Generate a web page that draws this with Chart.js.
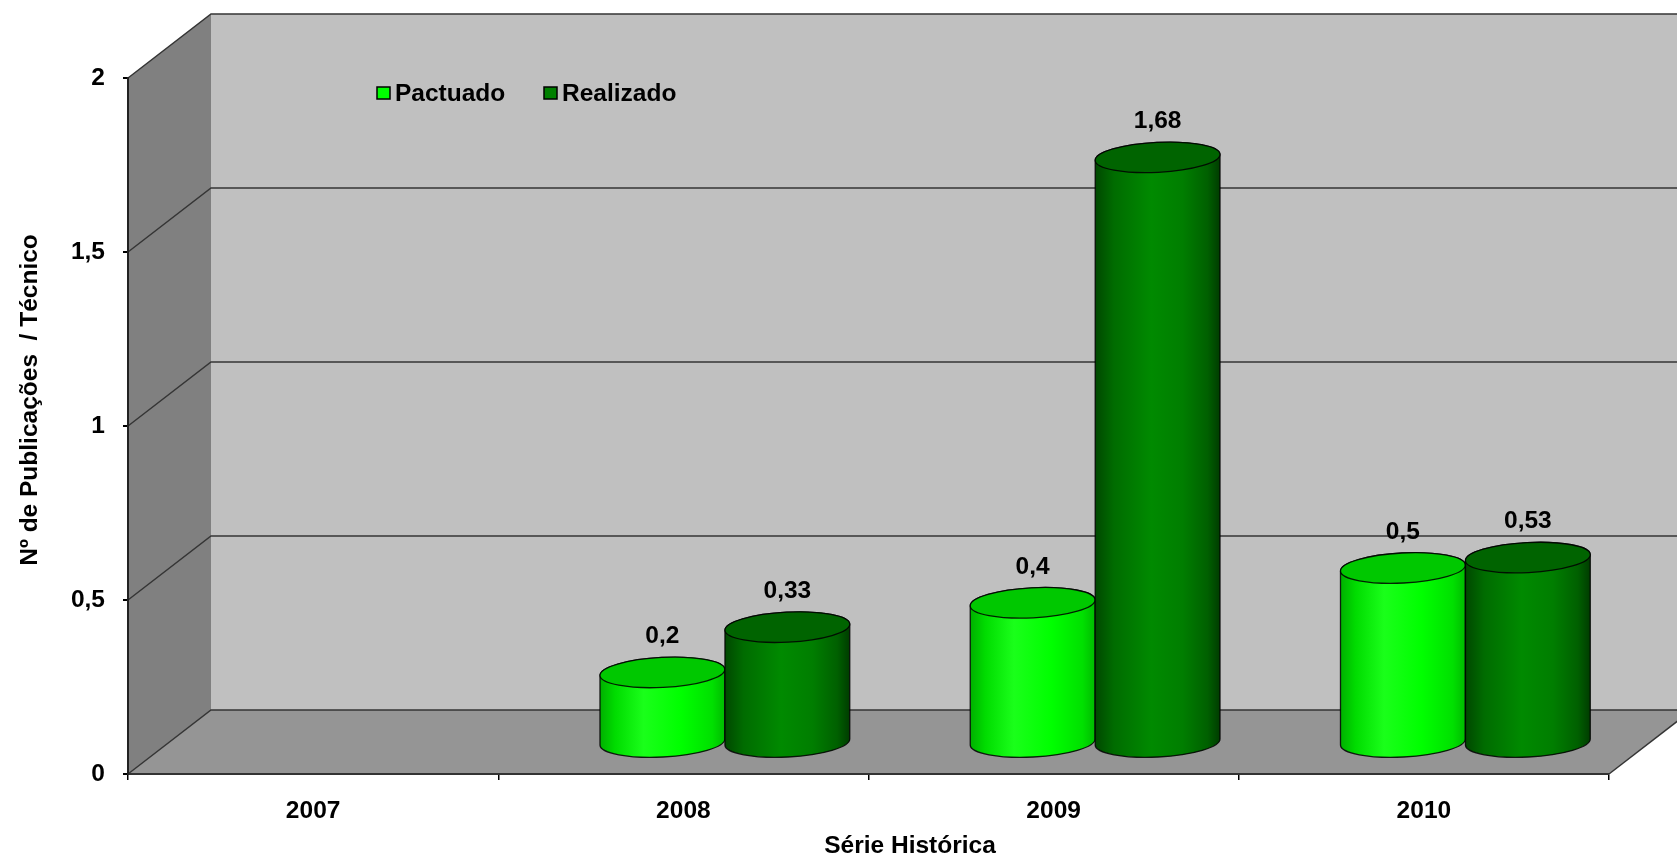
<!DOCTYPE html>
<html>
<head>
<meta charset="utf-8">
<title>Série Histórica</title>
<script src="https://cdn.jsdelivr.net/npm/chart.js@4/dist/chart.umd.min.js"></script>
<style>
  body { margin: 0; background: #fff; }
  #cv1 { display: block; }
</style>
</head>
<body>
<canvas id="cv1" width="1677" height="858"></canvas>
<script>
// data
const anos = ['2007', '2008', '2009', '2010'];
const pactuado = [null, 0.2, 0.4, 0.5];
const realizado = [null, 0.33, 1.68, 0.53];
const yTicks = [0, 0.5, 1, 1.5, 2];

const FONT = 'bold 24.5px "Liberation Sans", Arial, sans-serif';
const fontObj = { family: '"Liberation Sans", Arial, sans-serif', size: 24.5, weight: 'bold' };

// depth of the 3d box and of the cylinders
const DX = 83, DY = 64;
const RY = 15;      // vertical radius of cylinder ellipses
const TILT = -0.05; // slight tilt of the ellipses

const virgula = v => String(v).replace('.', ',');

function poly(ctx, pts, fill) {
  ctx.beginPath();
  ctx.moveTo(pts[0][0], pts[0][1]);
  for (let i = 1; i < pts.length; i++) ctx.lineTo(pts[i][0], pts[i][1]);
  ctx.closePath();
  ctx.fillStyle = fill;
  ctx.fill();
}

function cylinder(ctx, cx, r, yTop, yBase, stops, topColor) {
  const c = Math.cos(TILT), s = Math.sin(TILT);
  const g = ctx.createLinearGradient(cx - r, 0, cx + r, 0);
  stops.forEach(st => g.addColorStop(st[0], st[1]));

  // body
  ctx.beginPath();
  ctx.moveTo(cx - r * c, yTop - r * s);
  ctx.lineTo(cx - r * c, yBase - r * s);
  ctx.ellipse(cx, yBase, r, RY, TILT, Math.PI, 0, true);
  ctx.lineTo(cx + r * c, yTop + r * s);
  ctx.ellipse(cx, yTop, r, RY, TILT, 0, Math.PI, true);
  ctx.closePath();
  ctx.fillStyle = g;
  ctx.fill();
  ctx.lineWidth = 1.3;
  ctx.strokeStyle = 'rgba(0,0,0,0.85)';
  ctx.stroke();

  // top face
  ctx.beginPath();
  ctx.ellipse(cx, yTop, r, RY, TILT, 0, Math.PI * 2);
  ctx.fillStyle = topColor;
  ctx.fill();
  ctx.stroke();
}

const styles = [
  {
    stops: [[0, '#00b000'], [0.12, '#00dc00'], [0.35, '#1aff1a'], [0.65, '#00ff00'], [0.9, '#00e000'], [1, '#00bb00']],
    top: '#00c800'
  },
  {
    stops: [[0, '#004800'], [0.15, '#006c00'], [0.45, '#008a00'], [0.7, '#007e00'], [0.9, '#006000'], [1, '#003c00']],
    top: '#006400'
  }
];

const box3d = {
  id: 'box3d',
  beforeDraw(chart) {
    const { ctx, chartArea: a, scales: { y } } = chart;
    const y0 = y.getPixelForValue(0), y2 = y.getPixelForValue(2);
    const far = chart.width + 40;
    ctx.save();
    // floor, back wall, left wall
    poly(ctx, [[a.left, y0], [a.right, y0], [a.right + DX, y0 - DY], [a.left + DX, y0 - DY]], '#959595');
    poly(ctx, [[a.left + DX, y2 - DY], [far, y2 - DY], [far, y0 - DY], [a.left + DX, y0 - DY]], '#c0c0c0');
    poly(ctx, [[a.left, y0], [a.left, y2], [a.left + DX, y2 - DY], [a.left + DX, y0 - DY]], '#808080');

    // grid lines on the walls
    ctx.strokeStyle = '#353535';
    ctx.lineWidth = 1.5;
    yTicks.forEach(v => {
      const py = y.getPixelForValue(v);
      ctx.beginPath();
      ctx.moveTo(a.left, py);
      ctx.lineTo(a.left + DX, py - DY);
      ctx.lineTo(far, py - DY);
      ctx.stroke();
    });
    // right edge of the floor
    ctx.beginPath();
    ctx.moveTo(a.right, y0);
    ctx.lineTo(a.right + DX, y0 - DY);
    ctx.stroke();
    ctx.restore();
  },
  beforeDatasetsDraw(chart) {
    const { ctx, scales: { y } } = chart;
    const yBase = y.getPixelForValue(0) - DY / 2;
    ctx.save();
    const labels = [];
    chart.data.datasets.forEach((ds, di) => {
      const meta = chart.getDatasetMeta(di);
      meta.data.forEach((bar, i) => {
        const v = ds.data[i];
        if (v == null) return;
        const cx = bar.x + DX / 2;
        const yTop = y.getPixelForValue(v) - DY / 2;
        cylinder(ctx, cx, bar.width / 2, yTop, yBase, styles[di].stops, styles[di].top);
        labels.push([virgula(v), cx, yTop - 36]);
      });
    });
    ctx.font = FONT;
    ctx.fillStyle = '#000';
    ctx.textAlign = 'center';
    ctx.textBaseline = 'middle';
    labels.forEach(l => ctx.fillText(l[0], l[1], l[2]));
    ctx.restore();
    return false;
  },
  afterDraw(chart) {
    const { ctx, chartArea: a } = chart;
    ctx.save();
    // legend
    ctx.font = FONT;
    ctx.textBaseline = 'middle';
    ctx.textAlign = 'left';
    chart.data.datasets.forEach((ds, i) => {
      const lx = 377 + i * 167, ly = 93;
      ctx.fillStyle = ds.backgroundColor;
      ctx.fillRect(lx, ly - 6, 13, 12);
      ctx.strokeStyle = '#000';
      ctx.lineWidth = 1.5;
      ctx.strokeRect(lx, ly - 6, 13, 12);
      ctx.fillStyle = '#000';
      ctx.fillText(ds.label, lx + 18, ly + 1);
    });
    // axis titles
    ctx.textAlign = 'center';
    ctx.fillText('Série Histórica', (a.left + a.right + DX) / 2, 846);
    ctx.translate(30, 400);
    ctx.rotate(-Math.PI / 2);
    ctx.fillText('Nº de Publicações  / Técnico', 0, 0);
    ctx.restore();
  }
};

const ctx = document.getElementById('cv1').getContext('2d');
const chart = new Chart(ctx, {
  type: 'bar',
  data: {
    labels: anos,
    datasets: [
      { label: 'Pactuado', data: pactuado, backgroundColor: '#00ff00' },
      { label: 'Realizado', data: realizado, backgroundColor: '#008000' }
    ]
  },
  options: {
    responsive: false,
    animation: false,
    layout: { padding: { top: 78, right: 68, left: 0, bottom: 0 } },
    datasets: { bar: { categoryPercentage: 0.675, barPercentage: 1 } },
    plugins: { legend: { display: false }, tooltip: { enabled: false } },
    scales: {
      x: {
        grid: { drawOnChartArea: false, offset: true, tickLength: 6, color: '#000', lineWidth: 1.5 },
        border: { color: '#333', width: 2 },
        ticks: { font: fontObj, color: '#000', padding: 17 },
        afterFit: s => { s.height = 84; }
      },
      y: {
        min: 0,
        max: 2,
        ticks: { stepSize: 0.5, padding: 18, font: fontObj, color: '#000', callback: v => virgula(v) },
        grid: { drawOnChartArea: false, tickLength: 5, color: '#000', lineWidth: 2 },
        border: { color: '#222', width: 2 },
        afterFit: s => { s.width = 128; }
      }
    }
  },
  plugins: [box3d]
});
</script>
</body>
</html>
